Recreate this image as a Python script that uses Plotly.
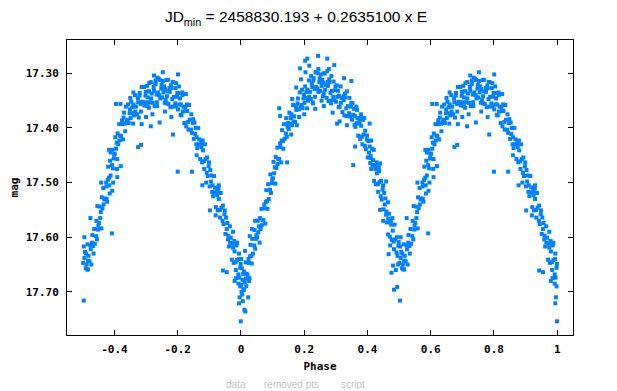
import plotly.graph_objects as go

# Folded light curve: phase in [0,1), V magnitude
phase_main = [
    0.001,0.003,0.005,0.007,0.009, 0.010,0.012,0.015,0.016,0.018, 0.021,0.024,0.025,0.027,0.029,
    0.030,0.033,0.034,0.036,0.038, 0.042,0.043,0.045,0.048,0.049, 0.051,0.053,0.055,0.057,0.059,
    0.060,0.062,0.065,0.066,0.068, 0.071,0.074,0.075,0.077,0.079, 0.080,0.083,0.084,0.086,0.088,
    0.092,0.093,0.095,0.098,0.099, 0.101,0.103,0.105,0.107,0.109, 0.110,0.112,0.115,0.116,0.118,
    0.121,0.124,0.125,0.127,0.129, 0.130,0.133,0.134,0.136,0.138, 0.142,0.143,0.145,0.148,0.149,
    0.151,0.153,0.155,0.157,0.159, 0.160,0.162,0.165,0.166,0.168, 0.171,0.174,0.175,0.177,0.179,
    0.180,0.183,0.184,0.186,0.188, 0.192,0.193,0.195,0.198,0.199, 0.201,0.203,0.205,0.207,0.209,
    0.210,0.212,0.215,0.216,0.218, 0.221,0.224,0.225,0.227,0.229, 0.230,0.233,0.234,0.236,0.238,
    0.242,0.243,0.245,0.248,0.249, 0.251,0.253,0.255,0.257,0.259, 0.260,0.262,0.265,0.266,0.268,
    0.271,0.274,0.275,0.277,0.279, 0.280,0.283,0.284,0.286,0.288, 0.292,0.293,0.295,0.298,0.299,
    0.301,0.303,0.305,0.307,0.309, 0.310,0.312,0.315,0.316,0.318, 0.321,0.324,0.325,0.327,0.329,
    0.330,0.333,0.334,0.336,0.338, 0.342,0.343,0.345,0.348,0.349, 0.351,0.353,0.355,0.357,0.359,
    0.360,0.362,0.365,0.366,0.368, 0.371,0.374,0.375,0.377,0.379, 0.380,0.383,0.384,0.386,0.388,
    0.392,0.393,0.395,0.398,0.399, 0.401,0.403,0.405,0.407,0.409, 0.410,0.412,0.415,0.416,0.418,
    0.421,0.424,0.425,0.427,0.429, 0.430,0.433,0.434,0.436,0.438, 0.442,0.443,0.445,0.448,0.449,
    0.451,0.453,0.455,0.457,0.459, 0.460,0.462,0.465,0.466,0.468, 0.471,0.474,0.475,0.477,0.479,
    0.480,0.483,0.484,0.486,0.488, 0.492,0.493,0.495,0.498,0.499, 0.501,0.503,0.505,0.507,0.509,
    0.510,0.512,0.515,0.516,0.518, 0.521,0.524,0.525,0.527,0.529, 0.530,0.533,0.534,0.536,0.538,
    0.542,0.543,0.545,0.548,0.549, 0.551,0.553,0.555,0.557,0.559, 0.560,0.562,0.565,0.566,0.568,
    0.571,0.574,0.575,0.577,0.579, 0.580,0.583,0.584,0.586,0.588, 0.592,0.593,0.595,0.598,0.599,
    0.601,0.603,0.605,0.607,0.609, 0.610,0.612,0.615,0.616,0.618, 0.621,0.624,0.625,0.627,0.629,
    0.630,0.633,0.634,0.636,0.638, 0.642,0.643,0.645,0.648,0.649, 0.651,0.653,0.655,0.657,0.659,
    0.660,0.662,0.665,0.666,0.668, 0.671,0.674,0.675,0.677,0.679, 0.680,0.683,0.684,0.686,0.688,
    0.692,0.693,0.695,0.698,0.699, 0.701,0.703,0.705,0.707,0.709, 0.710,0.712,0.715,0.716,0.718,
    0.721,0.724,0.725,0.727,0.729, 0.730,0.733,0.734,0.736,0.738, 0.742,0.743,0.745,0.748,0.749,
    0.751,0.753,0.755,0.757,0.759, 0.760,0.762,0.765,0.766,0.768, 0.771,0.774,0.775,0.777,0.779,
    0.780,0.783,0.784,0.786,0.788, 0.792,0.793,0.795,0.798,0.799, 0.801,0.803,0.805,0.807,0.809,
    0.810,0.812,0.815,0.816,0.818, 0.821,0.824,0.825,0.827,0.829, 0.830,0.833,0.834,0.836,0.838,
    0.842,0.843,0.845,0.848,0.849, 0.851,0.853,0.855,0.857,0.859, 0.860,0.862,0.865,0.866,0.868,
    0.871,0.874,0.875,0.877,0.879, 0.880,0.883,0.884,0.886,0.888, 0.892,0.893,0.895,0.898,0.899,
    0.901,0.903,0.905,0.907,0.909, 0.910,0.912,0.915,0.916,0.918, 0.921,0.924,0.925,0.927,0.929,
    0.930,0.933,0.934,0.936,0.938, 0.942,0.943,0.945,0.948,0.949, 0.951,0.953,0.955,0.957,0.959,
    0.960,0.962,0.965,0.966,0.968, 0.971,0.974,0.975,0.977,0.979, 0.980,0.983,0.984,0.986,0.988,
    0.992,0.993,0.995,0.998,0.999,
]
mag_main = [
    17.687,17.657,17.678,17.667,17.697, 17.663,17.683,17.646,17.676,17.667, 17.669,17.640,17.647,17.675,17.635,
    17.614,17.634,17.648,17.603,17.630, 17.615,17.587,17.621,17.603,17.596, 17.600,17.570,17.591,17.580,17.610,
    17.565,17.585,17.548,17.578,17.569, 17.569,17.540,17.547,17.575,17.535, 17.514,17.534,17.548,17.503,17.530,
    17.513,17.485,17.519,17.501,17.494, 17.492,17.462,17.483,17.472,17.502, 17.453,17.473,17.436,17.466,17.457,
    17.457,17.428,17.435,17.463,17.423, 17.404,17.424,17.438,17.393,17.420, 17.410,17.382,17.416,17.398,17.391,
    17.402,17.372,17.393,17.382,17.412, 17.375,17.395,17.358,17.388,17.379, 17.389,17.360,17.367,17.395,17.355,
    17.346,17.366,17.380,17.335,17.362, 17.358,17.330,17.364,17.346,17.339, 17.354,17.324,17.345,17.334,17.364,
    17.330,17.350,17.313,17.343,17.334, 17.347,17.318,17.325,17.353,17.313, 17.309,17.329,17.343,17.298,17.325,
    17.328,17.300,17.334,17.316,17.309, 17.332,17.302,17.323,17.312,17.342, 17.317,17.337,17.300,17.330,17.321,
    17.345,17.316,17.323,17.351,17.311, 17.316,17.336,17.350,17.305,17.332, 17.343,17.315,17.349,17.331,17.324,
    17.352,17.322,17.343,17.332,17.362, 17.341,17.361,17.324,17.354,17.345, 17.371,17.342,17.349,17.377,17.337,
    17.344,17.364,17.378,17.333,17.360, 17.373,17.345,17.379,17.361,17.354, 17.385,17.355,17.376,17.365,17.395,
    17.378,17.398,17.361,17.391,17.382, 17.414,17.385,17.392,17.420,17.380, 17.396,17.416,17.430,17.385,17.412,
    17.433,17.405,17.439,17.421,17.414, 17.454,17.424,17.445,17.434,17.464, 17.455,17.475,17.438,17.468,17.459,
    17.497,17.468,17.475,17.503,17.463, 17.483,17.503,17.517,17.472,17.499, 17.525,17.497,17.531,17.513,17.506,
    17.549,17.519,17.540,17.529,17.559, 17.553,17.573,17.536,17.566,17.557, 17.599,17.570,17.577,17.605,17.565,
    17.588,17.608,17.622,17.577,17.604, 17.628,17.600,17.634,17.616,17.609, 17.647,17.617,17.638,17.627,17.657,
    17.630,17.650,17.613,17.643,17.634, 17.644,17.615,17.622,17.650,17.610, 17.596,17.616,17.630,17.585,17.612,
    17.598,17.570,17.604,17.586,17.579, 17.574,17.544,17.565,17.554,17.584, 17.527,17.547,17.510,17.540,17.531,
    17.529,17.500,17.507,17.535,17.495, 17.471,17.491,17.505,17.460,17.487, 17.468,17.440,17.474,17.456,17.449,
    17.447,17.417,17.438,17.427,17.457, 17.410,17.430,17.393,17.423,17.414, 17.415,17.386,17.393,17.421,17.381,
    17.372,17.392,17.406,17.361,17.388, 17.385,17.357,17.391,17.373,17.366, 17.382,17.352,17.373,17.362,17.392,
    17.357,17.377,17.340,17.370,17.361, 17.375,17.346,17.353,17.381,17.341, 17.336,17.356,17.370,17.325,17.352,
    17.353,17.325,17.359,17.341,17.334, 17.353,17.323,17.344,17.333,17.363, 17.333,17.353,17.316,17.346,17.337,
    17.354,17.325,17.332,17.360,17.320, 17.319,17.339,17.353,17.308,17.335, 17.340,17.312,17.346,17.328,17.321,
    17.344,17.314,17.335,17.324,17.354, 17.329,17.349,17.312,17.342,17.333, 17.356,17.327,17.334,17.362,17.322,
    17.327,17.347,17.361,17.316,17.343, 17.355,17.327,17.361,17.343,17.336, 17.366,17.336,17.357,17.346,17.376,
    17.357,17.377,17.340,17.370,17.361, 17.391,17.362,17.369,17.397,17.357, 17.369,17.389,17.403,17.358,17.385,
    17.403,17.375,17.409,17.391,17.384, 17.420,17.390,17.411,17.400,17.430, 17.417,17.437,17.400,17.430,17.421,
    17.457,17.428,17.435,17.463,17.423, 17.441,17.461,17.475,17.430,17.457, 17.482,17.454,17.488,17.470,17.463,
    17.507,17.477,17.498,17.487,17.517, 17.505,17.525,17.488,17.518,17.509, 17.545,17.516,17.523,17.551,17.511,
    17.530,17.550,17.564,17.519,17.546, 17.570,17.542,17.576,17.558,17.551, 17.594,17.564,17.585,17.574,17.604,
    17.597,17.617,17.580,17.610,17.601, 17.641,17.612,17.619,17.647,17.607, 17.626,17.646,17.660,17.615,17.642,
    17.668,17.640,17.674,17.656,17.649,
]
phase_extra = [
    0.011,0.014,0.006,0.023,0.004,0.002,0.008,0.017,0.026,0.001,0.013,0.028,0.035,0.045,
    0.9995,0.994,0.996,0.998,0.992,0.985,0.994,0.943,0.955,0.980,0.975,0.988,
    0.244,0.273,0.210,0.203,0.216,0.187,0.295,0.273,0.204,0.238,0.190,0.222,0.245,0.262,0.278,
    0.326,0.349,0.175,0.162,0.121,0.124,0.304,0.355,0.361,0.146,0.235,0.262,0.200,0.312,0.290,
    0.335,0.255,0.228,0.285,
    0.390,0.407,0.412,0.410,0.440,0.437,0.459,0.420,0.430,0.450,0.450,0.440,0.465,0.472,0.367,0.380,
    0.476,0.490,0.516,0.484,0.494,0.503,0.481,0.467,0.514,0.505,0.497,
    0.524,0.546,0.583,0.588,0.575,0.585,0.592,0.605,0.619,0.609,0.558,0.596,0.593,0.620,0.608,
    0.753,0.725,0.801,0.769,0.730,0.784,0.804,0.826,0.740,0.710,0.690,0.760,0.720,0.780,0.700,
    0.743,0.686,0.675,0.684,0.715,0.785,0.660,0.815,0.795,0.735,0.705,0.765,0.650,
    0.800,0.845,0.878,0.902,0.860,0.890,0.920,0.930,
]
mag_extra = [
    17.733,17.736,17.717,17.710,17.705,17.700,17.695,17.690,17.680,17.640,17.625,17.598,17.585,17.570,
    17.754,17.721,17.710,17.690,17.685,17.675,17.630,17.661,17.664,17.680,17.590,17.610,
    17.268,17.273,17.273,17.277,17.286,17.291,17.285,17.296,17.298,17.298,17.311,17.305,17.292,17.300,17.292,
    17.309,17.314,17.326,17.347,17.364,17.378,17.392,17.468,17.434,17.463,17.365,17.360,17.375,17.388,17.372,
    17.395,17.350,17.355,17.355,
    17.382,17.392,17.423,17.451,17.465,17.479,17.498,17.440,17.470,17.505,17.570,17.550,17.595,17.615,17.367,17.375,
    17.665,17.660,17.659,17.696,17.691,17.716,17.652,17.631,17.659,17.600,17.650,
    17.565,17.543,17.440,17.445,17.530,17.520,17.593,17.356,17.356,17.490,17.500,17.500,17.515,17.470,17.475,
    17.298,17.304,17.302,17.312,17.313,17.316,17.324,17.338,17.310,17.318,17.325,17.370,17.375,17.380,17.380,
    17.390,17.393,17.435,17.431,17.397,17.412,17.335,17.335,17.318,17.360,17.360,17.355,17.345,
    17.480,17.480,17.505,17.551,17.450,17.500,17.560,17.505,
]

x_ticks = [-0.4, -0.2, 0, 0.2, 0.4, 0.6, 0.8, 1]
x_tick_text = ["-0.4", "-0.2", "0", "0.2", "0.4", "0.6", "0.8", "1"]
y_ticks = [17.30, 17.40, 17.50, 17.60, 17.70]
y_tick_text = ["17.30", "17.40", "17.50", "17.60", "17.70"]

phase = phase_main + phase_extra
mag = mag_main + mag_extra
# Phases from 0.5 to 1 are also shown one cycle earlier
x_all = phase + [p - 1 for p in phase if p >= 0.5]
y_all = mag + [m for p, m in zip(phase, mag) if p >= 0.5]

fig = go.Figure()
fig.add_trace(go.Scatter(
    x=x_all, y=y_all, mode="markers",
    marker=dict(symbol="square", size=4, color="#0080ff", line=dict(width=0)),
    showlegend=False, hoverinfo="skip",
))

tickfont = dict(family="DejaVu Sans Mono", size=11, color="black", weight="bold")
axis_common = dict(
    showgrid=False, zeroline=False, showline=True, linecolor="black", linewidth=1,
    mirror="ticks", ticks="inside", ticklen=5, tickcolor="black", tickwidth=1,
    tickfont=tickfont, automargin=False,
)
fig.update_xaxes(
    range=[-0.55, 1.05], tickvals=x_ticks, ticktext=x_tick_text, ticklabelstandoff=4,
    title=dict(text="Phase", font=tickfont, standoff=7), **axis_common,
)
fig.update_yaxes(
    range=[17.779, 17.239], tickvals=y_ticks, ticktext=y_tick_text, ticklabelstandoff=5,
    title=dict(text="mag", font=tickfont, standoff=5), **axis_common,
)

# page has an 8px body margin, so the figure is 8px smaller than the window
W, H = 609, 383
fig.update_layout(
    width=W, height=H,
    margin=dict(l=59, r=44, t=32, b=56),
    paper_bgcolor="white", plot_bgcolor="white",
    title=dict(
        text="JD<sub>min</sub> = 2458830.193 + 0.2635100 x E",
        font=dict(family="Liberation Sans", size=15.5, color="black"),
        x=(296 - 8) / W, xref="container", xanchor="center",
        y=1 - (17 - 8) / H, yref="container", yanchor="middle",
    ),
)

legend_items = [("data", 236), ("removed pts", 291), ("script", 353)]
for label, px in legend_items:
    fig.add_annotation(
        text=label, xref="paper", yref="paper",
        x=(px - 67) / 506, y=(335 - 377) / 295,
        xanchor="center", yanchor="top", showarrow=False,
        font=dict(family="Liberation Sans", size=10, color="#c4c4c4"),
    )

fig.write_html("out.html")
